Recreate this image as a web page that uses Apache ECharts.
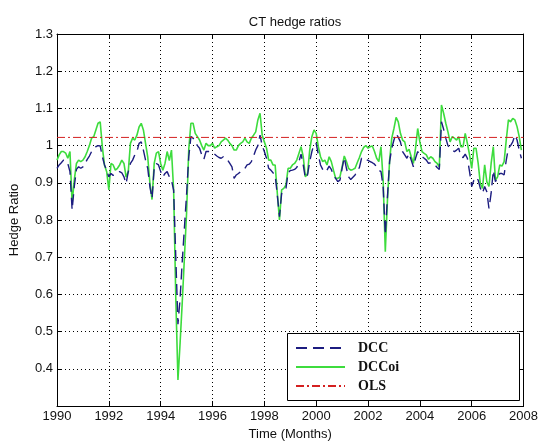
<!DOCTYPE html>
<html>
<head>
<meta charset="utf-8">
<script src="https://cdn.jsdelivr.net/npm/echarts@6/dist/echarts.min.js"></script>
<style>
html,body{margin:0;padding:0;background:#fff;}
#chart{width:541px;height:446px;}
</style>
</head>
<body>
<div id="chart"></div>
<script>
// Monthly observations starting January 1990
const startYear = 1990;
const xMin = 1990, xMax = 2008, xStep = 2;
const yMin = 0.3, yMax = 1.3, yStep = 0.1;

const dcc = [
 0.939,0.948,0.954,0.961,0.960,0.952,0.930,0.827,0.890,0.936,0.943,0.939,
 0.943,0.952,0.963,0.972,0.984,0.990,0.997,1.000,0.999,0.970,0.948,0.934,
 0.916,0.925,0.920,0.923,0.927,0.930,0.927,0.916,0.898,0.930,0.952,0.961,
 0.975,0.984,1.006,1.010,0.988,0.961,0.939,0.890,0.858,0.939,0.952,0.948,
 0.930,0.916,0.925,0.930,0.916,0.907,0.880,0.700,0.520,0.590,0.690,0.780,
 0.870,0.970,1.024,1.020,1.010,1.000,0.993,0.975,0.963,0.984,0.984,0.984,
 0.981,0.977,0.972,0.968,0.966,0.970,0.963,0.961,0.952,0.943,0.912,0.921,
 0.925,0.930,0.934,0.939,0.948,0.950,0.957,0.972,0.988,1.000,1.028,1.000,
 0.984,0.966,0.939,0.934,0.927,0.921,0.867,0.809,0.871,0.876,0.885,0.927,
 0.933,0.934,0.936,0.941,0.957,0.977,0.948,0.912,0.921,0.957,0.984,1.004,
 1.006,0.975,0.948,0.936,0.941,0.934,0.945,0.936,0.921,0.912,0.903,0.907,
 0.939,0.968,0.939,0.916,0.909,0.915,0.921,0.933,0.941,0.966,0.968,0.963,
 0.960,0.957,0.954,0.950,0.943,0.934,0.930,0.890,0.760,0.863,0.957,0.993,
 1.015,1.033,1.022,1.010,0.984,0.975,0.966,0.979,0.961,0.943,0.966,0.984,
 0.975,0.970,0.966,0.961,0.952,0.954,0.950,0.948,0.941,0.936,1.064,1.044,
 1.020,1.000,0.993,0.988,0.984,0.988,0.993,0.970,0.968,0.977,0.966,0.930,
 0.890,0.907,0.915,0.907,0.885,0.872,0.890,0.876,0.831,0.872,0.933,0.903,
 0.915,0.925,0.925,0.921,0.961,0.993,1.000,1.010,1.028,1.015,0.988,0.966
];

const dccoi = [
 0.961,0.975,0.984,0.984,0.980,0.966,0.984,0.845,0.907,0.952,0.961,0.957,
 0.961,0.970,0.984,1.000,1.020,1.024,1.042,1.060,1.064,0.996,0.947,0.930,
 0.881,0.952,0.948,0.934,0.939,0.948,0.961,0.952,0.915,0.930,1.006,1.020,
 1.015,1.028,1.050,1.060,1.042,1.006,0.970,0.900,0.855,0.952,0.980,0.984,
 0.952,0.934,0.952,0.984,0.960,0.988,0.880,0.590,0.370,0.470,0.580,0.700,
 0.820,0.990,1.060,1.060,1.033,1.024,1.015,1.000,0.988,1.006,1.000,1.000,
 1.006,0.993,0.997,1.000,1.010,1.015,1.020,1.015,1.006,1.000,0.988,0.988,
 1.000,1.006,1.010,1.020,1.010,1.006,1.020,1.028,1.037,1.069,1.087,1.028,
 1.010,0.993,0.961,0.961,0.948,0.948,0.872,0.800,0.881,0.885,0.894,0.939,
 0.939,0.948,0.952,0.961,0.979,0.997,0.970,0.916,0.925,0.988,1.024,1.042,
 1.033,0.997,0.970,0.957,0.961,0.948,0.970,0.957,0.934,0.912,0.912,0.916,
 0.943,0.972,0.957,0.939,0.934,0.936,0.939,0.954,0.968,0.984,0.995,1.000,
 0.993,0.997,0.999,0.984,0.966,0.957,0.997,0.907,0.715,0.854,0.961,1.020,
 1.046,1.076,1.064,1.033,1.015,1.010,0.984,0.990,0.970,0.952,0.993,1.046,
 1.010,0.984,0.979,0.975,0.963,0.970,0.966,0.957,0.952,0.943,1.109,1.087,
 1.060,1.037,1.010,1.024,1.020,1.015,1.024,0.997,0.997,1.033,1.006,0.975,
 0.939,0.993,0.993,0.952,0.898,0.885,0.948,0.903,0.890,0.952,0.997,0.907,
 0.916,0.948,0.945,0.957,1.015,1.069,1.064,1.073,1.069,1.051,1.024,0.988
];

const olsValue = 1.022;
const olsSpan = [1990, 2008];

const seriesNames = ['DCC', 'DCCoi', 'OLS'];

const toPairs = arr => arr.map((v, i) => [startYear + i / 12, v]);

const chart = echarts.init(document.getElementById('chart'), null, {renderer: 'canvas'});

const sans = 'Liberation Sans, Arial, sans-serif';
const serif = 'Liberation Serif, Times New Roman, serif';

const gridLine = {show: true, lineStyle: {color: '#000', width: 1, type: [1, 3]}};
const axisLine = {show: true, lineStyle: {color: '#000', width: 1}};
const tick = {show: true, inside: true, length: 5, lineStyle: {color: '#000'}};

const option = {
  animation: false,
  backgroundColor: '#fff',
  title: {
    text: 'CT hedge ratios',
    left: 290, top: 11, textAlign: 'center',
    textStyle: {fontFamily: sans, fontSize: 13, fontWeight: 'normal', color: '#111'}
  },
  grid: {left: 56, right: 17, top: 34, bottom: 40, containLabel: false},
  xAxis: [{
    type: 'value', min: xMin, max: xMax, interval: xStep,
    name: 'Time (Months)', nameLocation: 'middle', nameGap: 21,
    nameTextStyle: {fontFamily: sans, fontSize: 13, color: '#111'},
    axisLine: axisLine, axisTick: tick, splitLine: gridLine,
    axisLabel: {fontFamily: sans, fontSize: 13, color: '#111', margin: 4, formatter: v => String(v)}
  }, {
    type: 'value', min: xMin, max: xMax, interval: xStep, position: 'top',
    axisLine: axisLine, axisTick: tick, splitLine: {show: false}, axisLabel: {show: false}
  }],
  yAxis: [{
    type: 'value', min: yMin, max: yMax, interval: yStep,
    name: 'Hedge Ratio', nameLocation: 'middle', nameGap: 36, nameRotate: 90,
    nameTextStyle: {fontFamily: sans, fontSize: 13, color: '#111'},
    axisLine: axisLine, axisTick: tick, splitLine: gridLine,
    axisLabel: {
      fontFamily: sans, fontSize: 13, color: '#111', margin: 4, showMinLabel: false,
      formatter: v => String(parseFloat(v.toFixed(1)))
    }
  }, {
    type: 'value', min: yMin, max: yMax, interval: yStep, position: 'right',
    axisLine: axisLine, axisTick: tick, splitLine: {show: false}, axisLabel: {show: false}
  }],
  legend: {
    data: seriesNames,
    orient: 'vertical', left: 290, top: 336, z: 120,
    itemWidth: 49, itemHeight: 14, itemGap: 5,
    itemStyle: {opacity: 0},
    textStyle: {fontFamily: serif, fontSize: 14, fontWeight: 'bold', color: '#111', padding: [0, 0, 0, 8]}
  },
  graphic: [{
    type: 'rect', z: 110, silent: true,
    shape: {x: 287.5, y: 333.5, width: 232, height: 67},
    style: {fill: '#fff', stroke: '#000', lineWidth: 1}
  }],
  series: [{
    name: 'DCCoi', type: 'line', data: toPairs(dccoi), showSymbol: false, symbol: 'none',
    lineStyle: {color: '#3ddc3d', width: 1.6, type: 'solid'}, itemStyle: {color: '#3ddc3d'}, z: 3
  }, {
    name: 'DCC', type: 'line', data: toPairs(dcc), showSymbol: false, symbol: 'none',
    lineStyle: {color: '#1c1c80', width: 1.4, type: [11, 6]}, itemStyle: {color: '#1c1c80'}, z: 4
  }, {
    name: 'OLS', type: 'line', data: olsSpan.map(x => [x, olsValue]), showSymbol: false, symbol: 'none',
    lineStyle: {color: '#d42020', width: 1, type: [8, 3, 2, 3]}, itemStyle: {color: '#d42020'}, z: 5
  }]
};

chart.setOption(option);
</script>
</body>
</html>
